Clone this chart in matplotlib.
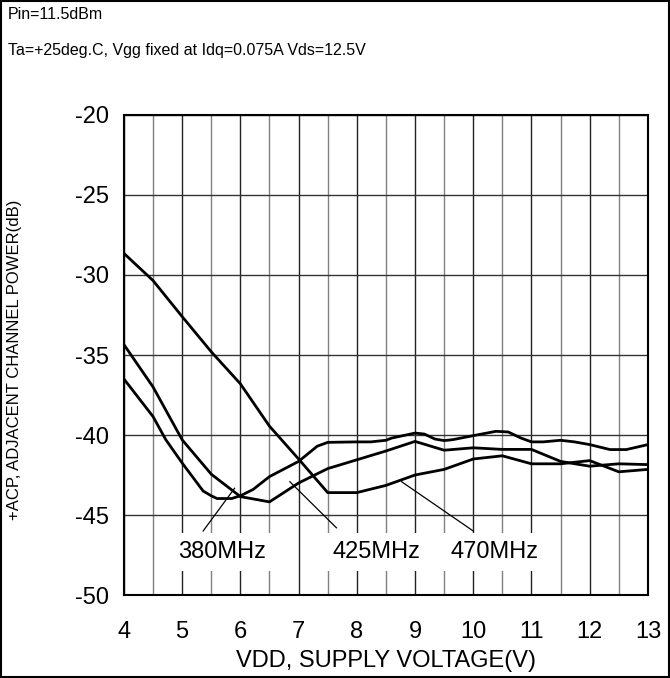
import numpy as np
import matplotlib as mpl
import matplotlib.pyplot as plt
from matplotlib.patches import Rectangle

# Values
vdd_470 = [4.0, 4.5, 5.0, 5.5, 6.0, 6.5, 7.0, 7.5, 8.0, 8.5, 9.0, 9.5, 10.0,
           10.5, 11.0, 11.5, 12.0, 12.5, 13.0]
acp_470 = [-28.65, -30.35, -32.6, -34.8, -36.8, -39.45, -41.5, -43.6, -43.6,
           -43.15, -42.5, -42.15, -41.5, -41.3, -41.8, -41.8, -41.6, -42.3, -42.15]

vdd_425 = [4.0, 4.5, 5.0, 5.5, 6.0, 6.5, 7.0, 7.5, 8.0, 8.5, 9.0, 9.5, 10.0,
           10.5, 11.0, 11.5, 12.0, 12.5, 13.0]
acp_425 = [-34.35, -37.0, -40.3, -42.45, -43.85, -44.18, -43.0, -42.1, -41.55,
           -41.0, -40.4, -40.95, -40.8, -40.9, -40.9, -41.65, -41.95, -41.8, -41.85]

vdd_380 = [4.0, 4.5, 4.72, 5.0, 5.36, 5.5, 5.6, 5.85, 6.0, 6.22, 6.5, 7.0, 7.32,
           7.5, 8.0, 8.24, 8.5, 8.6, 9.0, 9.16, 9.34, 9.5, 9.65, 10.0, 10.39,
           10.6, 10.82, 11.0, 11.2, 11.5, 11.74, 12.0, 12.35, 12.63, 13.0]
acp_380 = [-36.5, -38.85, -40.3, -41.75, -43.5, -43.8, -43.97, -43.97, -43.8,
           -43.4, -42.6, -41.65, -40.7, -40.46, -40.43, -40.43, -40.33, -40.19,
           -39.88, -39.94, -40.25, -40.35, -40.29, -40.04, -39.77, -39.81,
           -40.19, -40.43, -40.43, -40.33, -40.43, -40.6, -40.91, -40.91, -40.6]

labels = ['380MHz', '425MHz', '470MHz']
label_x = [5.68, 8.34, 10.37]
label_y = -47.3
# pointer lines: (x_start, y_start, x_end, y_end)
pointers = [(5.36, -46.0, 5.9, -43.33),
            (7.65, -45.8, 6.85, -42.92),
            (10.0, -46.0, 8.77, -42.92)]

mpl.rcParams['font.family'] = 'sans-serif'
mpl.rcParams['font.sans-serif'] = ['Liberation Sans', 'DejaVu Sans']
mpl.rcParams['axes.unicode_minus'] = False

fig = plt.figure(figsize=(6.7, 6.78), dpi=100)
fig.patches.append(Rectangle((0.001, 0.001), 0.997, 0.997, transform=fig.transFigure,
                             fill=False, edgecolor='black', linewidth=1.5))
ax = fig.add_axes([0.185, 0.1224, 0.782, 0.708])

ax.set_xlim(4, 13)
ax.set_ylim(-50, -20)
ax.set_xticks(np.arange(4, 14, 1))
ax.set_xticks(np.arange(4.5, 13, 1), minor=True)
ax.set_yticks(np.arange(-50, -19, 5))
ax.grid(which='major', axis='x', color='#222222', linewidth=1.0)
ax.grid(which='minor', axis='x', color='#808080', linewidth=1.0)
ax.grid(which='major', axis='y', color='#333333', linewidth=1.0)
ax.set_axisbelow(True)
ax.tick_params(which='both', length=0)
ax.tick_params(axis='x', pad=19, labelsize=17)
ax.tick_params(axis='y', pad=11, labelsize=17)
for s in ax.spines.values():
    s.set_linewidth(1.5)
    s.set_color('black')

ax.plot(vdd_470, acp_470, color='black', linewidth=2.0, zorder=3)
ax.plot(vdd_425, acp_425, color='black', linewidth=2.0, zorder=3)
ax.plot(vdd_380, acp_380, color='black', linewidth=2.0, zorder=3)

for (x0, y0, x1, y1) in pointers:
    ax.plot([x0, x1], [y0, y1], color='black', linewidth=0.9, zorder=3)
for lab, lx in zip(labels, label_x):
    ax.text(lx, label_y, lab, ha='center', va='center', fontsize=17, zorder=4,
            bbox=dict(facecolor='white', edgecolor='none', pad=6))

ax.set_xlabel('VDD, SUPPLY VOLTAGE(V)', fontsize=17, labelpad=5)
fig.text(0.022, 0.47, '+ACP, ADJACENT CHANNEL POWER(dB)', rotation=90,
         ha='center', va='center', fontsize=12)
fig.text(0.012, 0.978, 'Pin=11.5dBm', ha='left', va='center', fontsize=11.5)
fig.text(0.012, 0.926, 'Ta=+25deg.C, Vgg fixed at Idq=0.075A Vds=12.5V',
         ha='left', va='center', fontsize=11.5)

fig.savefig('out.png', dpi=100)
